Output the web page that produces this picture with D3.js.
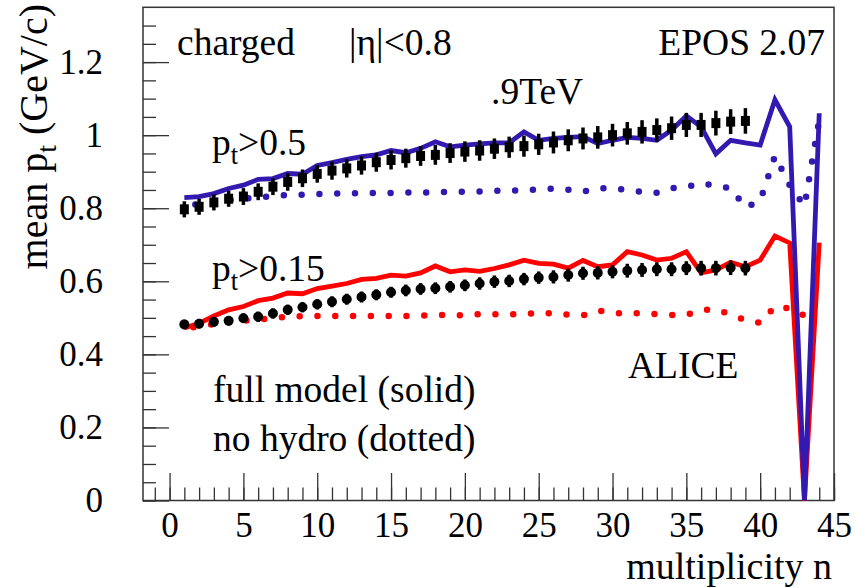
<!DOCTYPE html>
<html>
<head>
<meta charset="utf-8">
<script src="https://cdn.jsdelivr.net/npm/d3@7"></script>
<style>
  html, body { margin: 0; padding: 0; background: #fff; }
  svg { display: block; }
  text { font-family: "Liberation Serif", "Times New Roman", Tinos, "DejaVu Serif", serif; fill: #000; }
</style>
</head>
<body>
<svg id="chart" width="855" height="588"></svg>
<script>
// Multiplicity bins
const nData = d3.range(1, 40);   // ALICE points, n = 1..39
const nModel = d3.range(1, 45);  // EPOS curves, n = 1..44

// ALICE, pt > 0.5 (squares) and pt > 0.15 (circles)
const alicePt05 = [0.797,0.804,0.816,0.826,0.832,0.845,0.859,0.872,0.882,0.894,
  0.903,0.909,0.917,0.926,0.932,0.937,0.943,0.946,0.951,0.955,
  0.958,0.963,0.967,0.970,0.975,0.980,0.986,0.991,0.994,1.000,
  1.005,1.009,1.014,1.019,1.028,1.028,1.033,1.037,1.039];
const alicePt05Err = [0.022,0.022,0.022,0.022,0.023,0.023,0.023,0.024,0.024,0.024,
  0.025,0.025,0.025,0.026,0.026,0.026,0.027,0.027,0.027,0.028,
  0.028,0.028,0.029,0.029,0.029,0.030,0.030,0.030,0.031,0.031,
  0.031,0.032,0.032,0.032,0.033,0.033,0.034,0.034,0.035];
const alicePt015 = [0.482,0.484,0.489,0.492,0.499,0.503,0.512,0.522,0.529,0.537,
  0.544,0.551,0.557,0.563,0.570,0.575,0.579,0.581,0.585,0.589,
  0.594,0.599,0.601,0.606,0.610,0.612,0.617,0.622,0.623,0.626,
  0.629,0.631,0.633,0.633,0.636,0.636,0.636,0.637,0.636];
const alicePt015Err = [0.013,0.013,0.013,0.013,0.013,0.014,0.014,0.014,0.014,0.014,
  0.015,0.015,0.015,0.015,0.015,0.016,0.016,0.016,0.016,0.016,
  0.017,0.017,0.017,0.017,0.017,0.018,0.018,0.018,0.018,0.018,
  0.019,0.019,0.019,0.019,0.019,0.020,0.020,0.020,0.020];

// EPOS 2.07 full model (solid) and without hydro (dotted)
const eposFullPt05 = [0.829,0.832,0.840,0.854,0.863,0.879,0.881,0.895,0.893,0.917,
  0.925,0.934,0.941,0.946,0.958,0.952,0.964,0.982,0.968,0.973,
  0.976,0.979,0.979,1.009,0.986,0.991,0.994,0.996,0.977,0.986,
  0.994,0.991,0.986,1.014,1.053,1.023,0.949,0.986,0.979,0.973,
  1.097,1.023,0.000,1.060];
const eposFullPt015 = [0.472,0.485,0.505,0.522,0.531,0.547,0.554,0.568,0.566,0.580,
  0.587,0.594,0.605,0.608,0.617,0.614,0.623,0.642,0.626,0.631,
  0.627,0.635,0.645,0.658,0.649,0.647,0.636,0.657,0.640,0.645,
  0.681,0.672,0.658,0.663,0.681,0.623,0.631,0.652,0.640,0.658,
  0.724,0.705,0.000,0.706];
const eposNoHydroPt05 = [0.806,0.812,0.817,0.822,0.826,0.830,0.833,0.836,0.837,0.839,
  0.840,0.841,0.841,0.842,0.842,0.843,0.843,0.844,0.845,0.845,
  0.846,0.848,0.847,0.850,0.851,0.854,0.851,0.845,0.855,0.854,
  0.850,0.845,0.842,0.855,0.858,0.869,0.861,0.855,0.802,0.820,
  0.943,0.863,0.806,1.042];
const eposNoHydroPt015 = [0.470,0.477,0.483,0.488,0.492,0.495,0.499,0.503,0.505,0.505,
  0.505,0.505,0.505,0.505,0.505,0.505,0.506,0.507,0.508,0.507,
  0.510,0.510,0.510,0.510,0.514,0.512,0.509,0.507,0.520,0.514,
  0.511,0.513,0.510,0.508,0.508,0.521,0.524,0.509,0.494,0.486,
  0.531,0.526,0.506,0.556];

// Axis ticks
const xMajorTicks = [0, 5, 10, 15, 20, 25, 30, 35, 40, 45];
const xMinorTicks = d3.range(-1, 46);
const yMajorTicks = [0, 0.2, 0.4, 0.6, 0.8, 1.0, 1.2];
const yMinorTicks = d3.range(0, 27).map(i => +(i * 0.05).toFixed(2));

const BLUE = "#3419b0";
const RED = "#ff0000";
const AXIS = "#333";

const svg = d3.select("#chart");
const x = d3.scaleLinear().domain([-1.8, 45]).range([143, 834]);
const y = d3.scaleLinear().domain([0, 1.35]).range([500.5, 7.3]);

// ---- axes ----
const xMinor = d3.axisBottom(x).tickValues(xMinorTicks).tickSize(-13).tickFormat("");
const xMajor = d3.axisBottom(x).tickValues(xMajorTicks).tickSize(-27.5).tickPadding(12)
  .tickFormat(d3.format("d"));
const yMinor = d3.axisLeft(y).tickValues(yMinorTicks).tickSize(-13).tickFormat("");
const yMajor = d3.axisLeft(y).tickValues(yMajorTicks).tickSize(-26).tickPadding(40)
  .tickFormat(d => d === 0 ? "0" : d === 1 ? "1" : d3.format(".1f")(d));

function styleAxis(g) {
  g.select(".domain").remove();
  g.attr("font-family", null);
  g.selectAll(".tick line").attr("stroke", AXIS).attr("stroke-width", 1.3);
  g.selectAll(".tick text").attr("font-size", 35).attr("fill", "#000");
}
svg.append("g").attr("transform", "translate(0,500.5)").call(xMinor).call(styleAxis);
svg.append("g").attr("transform", "translate(0,500.5)").call(xMajor).call(styleAxis);
svg.append("g").attr("transform", "translate(143,0)").call(yMinor).call(styleAxis);
svg.append("g").attr("transform", "translate(143,0)").call(yMajor).call(styleAxis);

// frame
svg.append("rect")
  .attr("x", 143).attr("y", 7.3).attr("width", 834 - 143).attr("height", 500.5 - 7.3)
  .attr("fill", "none").attr("stroke", AXIS).attr("stroke-width", 1.5);

// ---- model curves ----
const line = d3.line().x((d, i) => x(nModel[i])).y(d => y(d));
const curves = svg.append("g");

function dotted(values, color, offset) {
  curves.append("path").datum(values)
    .attr("d", line).attr("fill", "none")
    .attr("stroke", color).attr("stroke-width", 6.5)
    .attr("stroke-linecap", "round")
    .attr("stroke-dasharray", "0 17.8")
    .attr("stroke-dashoffset", offset);
}
function solid(values, color) {
  curves.append("path").datum(values)
    .attr("d", line).attr("fill", "none")
    .attr("stroke", color).attr("stroke-width", 4.8)
    .attr("stroke-linejoin", "miter").attr("stroke-miterlimit", 4);
}
dotted(eposNoHydroPt015, RED, 8.5);
dotted(eposNoHydroPt05, BLUE, 6.7);
solid(eposFullPt015, RED);
solid(eposFullPt05, BLUE);

// ---- ALICE points ----
const pts = svg.append("g");
nData.forEach((n, i) => {
  const cx = x(n);
  // squares with error bars
  pts.append("line")
    .attr("x1", cx).attr("x2", cx)
    .attr("y1", y(alicePt05[i] - alicePt05Err[i])).attr("y2", y(alicePt05[i] + alicePt05Err[i]))
    .attr("stroke", "#000").attr("stroke-width", 3.5);
  pts.append("rect")
    .attr("x", cx - 4.5).attr("y", y(alicePt05[i]) - 5)
    .attr("width", 9).attr("height", 10).attr("fill", "#000");
  // circles with error bars
  pts.append("line")
    .attr("x1", cx).attr("x2", cx)
    .attr("y1", y(alicePt015[i] - alicePt015Err[i])).attr("y2", y(alicePt015[i] + alicePt015Err[i]))
    .attr("stroke", "#000").attr("stroke-width", 3.5);
  pts.append("circle")
    .attr("cx", cx).attr("cy", y(alicePt015[i])).attr("r", 5)
    .attr("fill", "#000");
});

// ---- labels ----
const FS = 37.5;
function label(txt, px, py, anchor) {
  return svg.append("text").attr("x", px).attr("y", py)
    .attr("font-size", FS).attr("text-anchor", anchor || "start").text(txt);
}
label("charged", 177, 55);
label("|η|<0.8", 349, 55);
label("EPOS 2.07", 825, 55, "end");
label(".9TeV", 491, 104);
label("ALICE", 628, 378);
label("full model (solid)", 213, 402);
label("no hydro (dotted)", 213, 451);

function ptLabel(cut, px, py) {
  const t = svg.append("text").attr("x", px).attr("y", py).attr("font-size", FS);
  t.append("tspan").text("p");
  t.append("tspan").attr("font-size", FS * 0.7).attr("dy", 9).text("t");
  t.append("tspan").attr("dy", -9).text(">" + cut);
}
ptLabel("0.5", 212, 155);
ptLabel("0.15", 212, 281);

// axis titles
svg.append("text")
  .attr("x", 832).attr("y", 579).attr("font-size", 38).attr("text-anchor", "end")
  .text("multiplicity n");

const yt = svg.append("text")
  .attr("transform", "translate(47,4) rotate(-90)")
  .attr("font-size", 40).attr("text-anchor", "end");
yt.append("tspan").text("mean p");
yt.append("tspan").attr("font-size", 40 * 0.7).attr("dy", 9).text("t");
yt.append("tspan").attr("dy", -9).text(" (GeV/c)");
</script>
</body>
</html>
